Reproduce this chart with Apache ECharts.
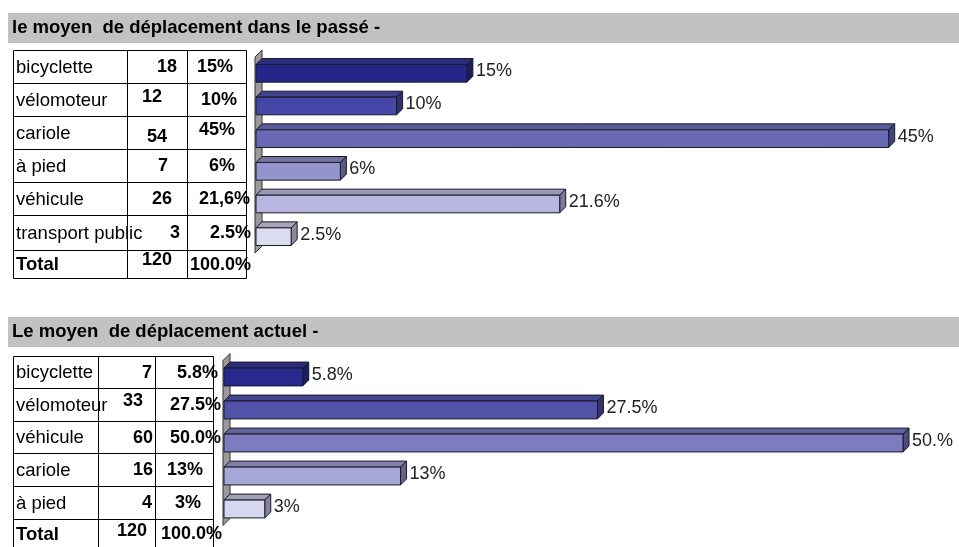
<!DOCTYPE html>
<html>
<head>
<meta charset="utf-8">
<script src="https://cdn.jsdelivr.net/npm/echarts@6/dist/echarts.min.js"></script>
<style>
  html, body { margin: 0; padding: 0; background: #ffffff; }
  #chart { width: 959px; height: 547px; }
</style>
</head>
<body>
<div id="chart"></div>
<script>
// ---- Data: travel mode in the past ----
const pastTitle = 'le moyen  de déplacement dans le passé -';
const pastModes = ['bicyclette', 'vélomoteur', 'cariole', 'à pied', 'véhicule', 'transport public'];
const pastCounts = ['18', '12', '54', '7', '26', '3'];
const pastShares = ['15%', '10%', '45%', '6%', '21,6%', '2.5%'];
const pastTotal = ['Total', '120', '100.0%'];
const pastBarValues = [15, 10, 45, 6, 21.6, 2.5];
const pastBarLabels = ['15%', '10%', '45%', '6%', '21.6%', '2.5%'];

// ---- Data: current travel mode ----
const nowTitle = 'Le moyen  de déplacement actuel -';
const nowModes = ['bicyclette', 'vélomoteur', 'véhicule', 'cariole', 'à pied'];
const nowCounts = ['7', '33', '60', '16', '4'];
const nowShares = ['5.8%', '27.5%', '50.0%', '13%', '3%'];
const nowTotal = ['Total', '120', '100.0%'];
const nowBarValues = [5.8, 27.5, 50, 13, 3];
const nowBarLabels = ['5.8%', '27.5%', '50.%', '13%', '3%'];

// ---- Layout and styling ----
const FONT = '"Liberation Sans", Arial, sans-serif';
const DEPTH = 6;           // 3D offset of bars and wall
const sections = [
  {
    title: pastTitle, modes: pastModes, counts: pastCounts, shares: pastShares, total: pastTotal,
    values: pastBarValues, labels: pastBarLabels,
    titleY: 13, titleH: 30,
    cols: [13, 127, 187, 246],
    rows: [50, 83, 116, 149, 182, 215, 250, 278],
    countShift: [[-10, 0], [-25, -3], [-20, 4], [-19, 0], [-15, 0], [-7, 0], [-15, -5]],
    shareShift: [[-13, 0], [-9, 0], [-11, -3], [-11, 0], [4, 0], [5, 0], [5, 0]],
    grid: { left: 256, top: 57, width: 719, height: 196 },
    front: ['#25258c', '#4646a6', '#6a6ab4', '#9494cc', '#b6b6de', '#dcdcf0'],
    top:   ['#2c2c7c', '#40408c', '#5a5a9a', '#727298', '#9a9ab8', '#a4a4b4'],
    side:  ['#1c1c60', '#30306c', '#44447a', '#5a5a80', '#7a7a98', '#8a8a9a']
  },
  {
    title: nowTitle, modes: nowModes, counts: nowCounts, shares: nowShares, total: nowTotal,
    values: nowBarValues, labels: nowBarLabels,
    titleY: 317, titleH: 30,
    cols: [13, 98, 155, 213],
    rows: [356, 388, 421, 453, 486, 519, 548],
    countShift: [[-3, 0], [-12, -4], [-2, 0], [-2, 0], [-3, 0], [-8, -3]],
    shareShift: [[5, 0], [8, 0], [8, 0], [-10, 0], [-12, 0], [9, 0]],
    grid: { left: 224, top: 360.5, width: 679, height: 165 },
    front: ['#28288e', '#5252a8', '#7c7cbe', '#a8a8d6', '#d6d6ee'],
    top:   ['#2c2c7c', '#44448e', '#62629c', '#8080a8', '#a0a0b4'],
    side:  ['#1c1c60', '#34346e', '#4c4c80', '#64648a', '#84849a']
  }
];

// ---- Title bars and tables drawn as graphic elements ----
const graphics = [];
sections.forEach(function (s) {
  graphics.push({
    type: 'rect', silent: true,
    shape: { x: 8, y: s.titleY, width: 951, height: s.titleH },
    style: { fill: '#c2c2c2' }
  });
  graphics.push({
    type: 'text', silent: true,
    style: { text: s.title, x: 12, y: s.titleY + s.titleH / 2, font: 'bold 18.5px ' + FONT,
             fill: '#000', verticalAlign: 'middle' }
  });
  const names = s.modes.concat([s.total[0]]);
  const counts = s.counts.concat([s.total[1]]);
  const shares = s.shares.concat([s.total[2]]);
  for (let r = 0; r < names.length; r++) {
    const y0 = s.rows[r], y1 = s.rows[r + 1];
    const cy = (y0 + y1) / 2;
    for (let c = 0; c < 3; c++) {
      graphics.push({
        type: 'rect', silent: true,
        shape: { x: s.cols[c] + 0.5, y: y0 + 0.5, width: s.cols[c + 1] - s.cols[c], height: y1 - y0 },
        style: { fill: 'none', stroke: '#000', lineWidth: 1 }
      });
    }
    const isTotal = r === names.length - 1;
    graphics.push({
      type: 'text', silent: true,
      style: { text: names[r], x: s.cols[0] + 3, y: cy + 1,
               font: (isTotal ? 'bold ' : '') + '18.5px ' + FONT, fill: '#000', verticalAlign: 'middle' }
    });
    graphics.push({
      type: 'text', silent: true,
      style: { text: counts[r], x: s.cols[2] + s.countShift[r][0], y: cy + 1 + s.countShift[r][1],
               font: 'bold 18px ' + FONT, fill: '#000', align: 'right', verticalAlign: 'middle' }
    });
    graphics.push({
      type: 'text', silent: true,
      style: { text: shares[r], x: s.cols[3] + s.shareShift[r][0], y: cy + 1 + s.shareShift[r][1],
               font: 'bold 18px ' + FONT, fill: '#000', align: 'right', verticalAlign: 'middle' }
    });
  }
});

// ---- 3D wall behind the bars ----
function renderWall(params, api) {
  const cs = params.coordSys;
  const x0 = api.coord([0, 0])[0];
  const gt = cs.y, gb = cs.y + cs.height;
  return {
    type: 'polygon',
    shape: { points: [[x0 - 1, gt], [x0 - 1 + DEPTH + 1, gt - DEPTH - 1], [x0 + DEPTH, gb - DEPTH - 1], [x0 - 1, gb]] },
    style: { fill: '#9a9a9a', stroke: '#333', lineWidth: 1 }
  };
}

// ---- 3D horizontal bars with value labels ----
function makeBarRenderer(s) {
  return function (params, api) {
    const i = params.dataIndex;
    const end = api.coord([api.value(0), api.value(1)]);
    const start = api.coord([0, api.value(1)]);
    const band = api.size([0, 1])[1];
    const h = band * 0.54;
    const x0 = start[0], x1 = end[0];
    const yt = end[1] - h / 2, yb = end[1] + h / 2;
    const d = DEPTH;
    const stroke = '#1a1a2a';
    return {
      type: 'group',
      children: [
        { type: 'polygon',
          shape: { points: [[x0, yt], [x0 + d, yt - d], [x1 + d, yt - d], [x1, yt]] },
          style: { fill: s.top[i], stroke: stroke, lineWidth: 1 } },
        { type: 'polygon',
          shape: { points: [[x1, yt], [x1 + d, yt - d], [x1 + d, yb - d], [x1, yb]] },
          style: { fill: s.side[i], stroke: stroke, lineWidth: 1 } },
        { type: 'rect',
          shape: { x: x0, y: yt, width: x1 - x0, height: h },
          style: { fill: s.front[i], stroke: stroke, lineWidth: 1 } },
        { type: 'text',
          style: { text: s.labels[i], x: x1 + d + 3, y: end[1] - 2,
                   font: '18px ' + FONT, fill: '#222', verticalAlign: 'middle' } }
      ]
    };
  };
}

const option = {
  animation: false,
  backgroundColor: '#ffffff',
  grid: sections.map(function (s) { return Object.assign({ containLabel: false }, s.grid); }),
  xAxis: sections.map(function (s, k) {
    return { type: 'value', gridIndex: k, min: 0, max: 50, show: false };
  }),
  yAxis: sections.map(function (s, k) {
    return { type: 'category', gridIndex: k, data: s.modes, inverse: true, show: false };
  }),
  series: [],
  graphic: { elements: graphics }
};
sections.forEach(function (s, k) {
  option.series.push({
    type: 'custom', xAxisIndex: k, yAxisIndex: k, silent: true,
    renderItem: renderWall, data: [[0, 0]], z: 1
  });
  option.series.push({
    type: 'custom', xAxisIndex: k, yAxisIndex: k, silent: true,
    renderItem: makeBarRenderer(s),
    data: s.values.map(function (v, i) { return [v, i]; }), z: 2
  });
});

const chart = echarts.init(document.getElementById('chart'), null, { renderer: 'canvas' });
chart.setOption(option);
</script>
</body>
</html>
